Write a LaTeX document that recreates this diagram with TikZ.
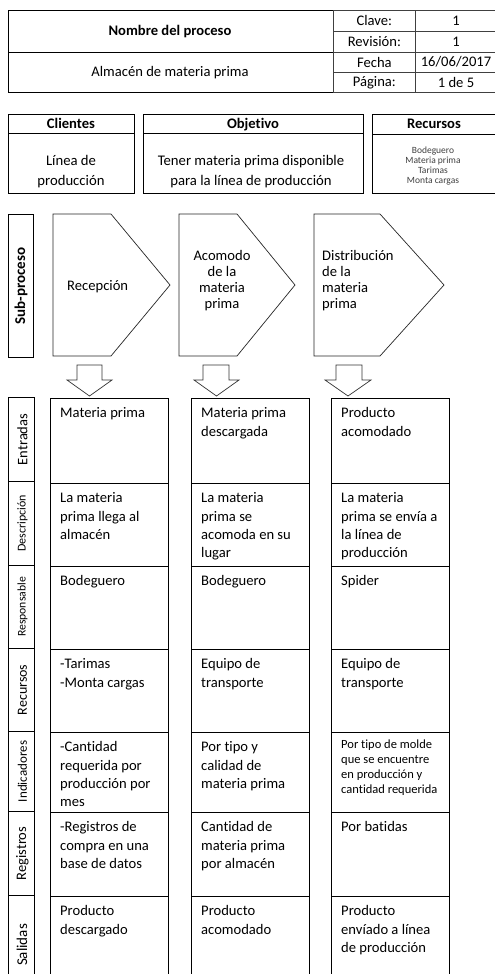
\documentclass[tikz,border=0pt]{standalone}
\usepackage{fontspec}
\setmainfont{Carlito}[Ligatures=NoCommon]
\newcommand\fmain{\fontsize{14.6}{18.3}\selectfont}
\newcommand\fbig{\fontsize{14.7}{20}\selectfont}
\newcommand\fsub{\fontsize{14.6}{16}\selectfont}
\newcommand\fsmall{\fontsize{12.5}{15}\selectfont}
\newcommand\ftiny{\fontsize{9.5}{10}\selectfont}
\tikzset{
  box/.style={draw=black, line width=0.9pt, inner sep=0pt, anchor=north west},
  tbox/.style={draw=black!75, line width=0.7pt, inner sep=0pt, anchor=north west},
  celltext/.style={anchor=north west, inner sep=0pt, align=left, font=\fmain},
  lbltext/.style={rotate=90, inner sep=0pt},
  headtext/.style={anchor=base, inner sep=0pt, font=\fmain\bfseries},
  blockarrow/.style={draw=black!80, line width=0.7pt, fill=white, line join=miter},
  pentagon/.style={draw=black!85, line width=0.7pt, line join=miter}
}
\newcommand\mkbox[6][box]{\node[#1, minimum width=#5pt, minimum height=#6pt] (#2) at (#3,#4) {};}
\newcommand\mkcell[6]{%
  \node[box, minimum width=#4pt, minimum height=#5pt] (#1) at (#2,#3) {};
  \node[celltext] (#1-t) at ([xshift=10pt,yshift=-6.7pt]#1.north west) {\strut #6};}
\newcommand\mklabel[7]{%
  \node[box, minimum width=#4pt, minimum height=#5pt] (#1) at (#2,#3) {};
  \node[lbltext, font=#6] (#1-t) at ([xshift=1pt]#1.center) {#7};}
\begin{document}
\begin{tikzpicture}[x=1pt,y=-1pt]
\useasboundingbox (0,0) rectangle (495,974);
\clip (0,0) rectangle (495,974);
\fill[white] (0,0) rectangle (495,974);
% ---------- header ----------
\mkbox{hA}{8}{10}{325}{42}
\mkbox{hB}{8}{52}{325}{40}
\node[headtext] (nombre) at (170,36) {Nombre del proceso};
\node[anchor=base, inner sep=0pt, font=\fmain] (almacen) at (170,77) {Almacén de materia prima};
\mkbox[tbox]{k1}{333}{10}{82}{21}
\mkbox[tbox]{v1}{415}{10}{85}{21}
\mkbox[tbox]{k2}{333}{31}{82}{21}
\mkbox[tbox]{v2}{415}{31}{85}{21}
\mkbox[tbox]{k3}{333}{52}{82}{20}
\mkbox[tbox]{v3}{415}{52}{85}{20}
\mkbox[tbox]{k4}{333}{72}{82}{20}
\mkbox[tbox]{v4}{415}{72}{85}{20}
\node[font=\fmain] (k1t) at (k1.center) {Clave:};
\node[font=\fmain] (k2t) at (k2.center) {Revisión:};
\node[font=\fmain] (k3t) at (k3.center) {Fecha};
\node[font=\fmain] (k4t) at (k4.center) {Página:};
\node[font=\fmain] (v1t) at (456,20.5) {1};
\node[font=\fmain] (v2t) at (456,41.5) {1};
\node[font=\fmain] (v3t) at (456,62) {16/06/2017};
\node[font=\fmain] (v4t) at (456,82) {1 de 5};
% ---------- clientes / objetivo / recursos ----------
\mkbox{cliH}{8}{114}{126}{19}
\mkbox{cliB}{8}{133}{126}{60}
\node[headtext] (clit) at (71,128) {Clientes};
\node[anchor=north, inner sep=0pt, align=center, font=\fbig] (clib) at (71,151) {\strut Línea de\\producción};
\mkbox{objH}{143}{114}{220}{19}
\mkbox{objB}{143}{133}{220}{60}
\node[headtext] (objt) at (253,128) {Objetivo};
\node[anchor=north, inner sep=0pt, align=center, font=\fbig] (objb) at (251,151) {\strut Tener materia prima disponible\\para la línea de producción};
\mkbox{recH}{372}{114}{126}{20}
\mkbox{recB}{372}{134}{126}{59}
\node[headtext] (rect) at (434,128) {Recursos};
\node[align=center, inner sep=0pt, font=\ftiny, text=black!75] (recb) at (433,166) {Bodeguero\\Materia prima\\Tarimas\\Monta cargas};
% ---------- sub-proceso ----------
\mkbox{sub}{8}{214}{25}{143}
\node[lbltext, font=\fontsize{15}{16}\selectfont\bfseries] (subt) at (sub.center) {Sub-proceso};
\draw[pentagon] (53,214) -- (111,214) -- (170,285) -- (111,356) -- (53,356) -- cycle;
\draw[pentagon] (179,214) -- (237,214) -- (295,285) -- (237,356) -- (179,356) -- cycle;
\draw[pentagon] (314,214) -- (380,214) -- (444,285) -- (380,356) -- (314,356) -- cycle;
\node[anchor=base west, inner sep=0pt, font=\fsub] (p1t) at (67,290) {Recepción};
\node[anchor=north, inner sep=0pt, align=center, font=\fsub] (p2t) at (222,249.5) {\strut Acomodo\\de la\\materia\\prima};
\node[anchor=north west, inner sep=0pt, align=left, font=\fsub] (p3t) at (322,249) {\strut Distribución\\de la\\materia\\prima};
% ---------- block arrows ----------
\draw[blockarrow] (77,365) -- (102,365) -- (102,380) -- (112,380) -- (89.5,396) -- (67,380) -- (77,380) -- cycle;
\draw[blockarrow] (203,365) -- (229,365) -- (229,380) -- (239,380) -- (216.5,396) -- (194,380) -- (203,380) -- cycle;
\draw[blockarrow] (336,365) -- (362,365) -- (362,380) -- (371,380) -- (348,396) -- (325,380) -- (336,380) -- cycle;
% ---------- row labels ----------
\mklabel{L1}{8}{397}{26}{84}{\fontsize{14.5}{16}\selectfont}{Entradas}
\mklabel{L2}{8}{481}{26}{84}{\fontsize{12}{14}\selectfont}{Descripción}
\mklabel{L3}{8}{565}{26}{83}{\fontsize{11.7}{14}\selectfont}{Responsable}
\mklabel{L4}{8}{648}{26}{83}{\fontsize{14}{16}\selectfont}{Recursos}
\mklabel{L5}{8}{731}{26}{80}{\fontsize{13}{15}\selectfont}{Indicadores}
\mklabel{L6}{8}{811}{26}{84}{\fontsize{14.5}{16}\selectfont}{Registros}
\node[box, minimum width=26pt, minimum height=90pt] (L7) at (8,895) {};
\node[lbltext, font=\fontsize{15}{16}\selectfont] (L7-t) at (22,945) {Salidas};
% ---------- column 1 ----------
\mkcell{a1}{50}{398}{118}{85}{Materia prima}
\mkcell{a2}{50}{483}{118}{83}{La materia\\prima llega al\\almacén}
\mkcell{a3}{50}{566}{118}{83}{Bodeguero}
\mkcell{a4}{50}{649}{118}{83}{-Tarimas\\-Monta cargas}
\mkcell{a5}{50}{732}{118}{80}{-Cantidad\\requerida por\\producción por\\mes}
\mkcell{a6}{50}{812}{118}{84}{-Registros de\\compra en una\\base de datos}
\mkcell{a7}{50}{896}{118}{90}{Producto\\descargado}
% ---------- column 2 ----------
\mkcell{b1}{191}{398}{118}{85}{Materia prima\\descargada}
\mkcell{b2}{191}{483}{118}{83}{La materia\\prima se\\acomoda en su\\lugar}
\mkcell{b3}{191}{566}{118}{83}{Bodeguero}
\mkcell{b4}{191}{649}{118}{83}{Equipo de\\transporte}
\mkcell{b5}{191}{732}{118}{80}{Por tipo y\\calidad de\\materia prima}
\mkcell{b6}{191}{812}{118}{84}{Cantidad de\\materia prima\\por almacén}
\mkcell{b7}{191}{896}{118}{90}{Producto\\acomodado}
% ---------- column 3 ----------
\mkcell{c1}{331}{398}{118}{85}{Producto\\acomodado}
\mkcell{c2}{331}{483}{118}{83}{La materia\\prima se envía a\\la línea de\\producción}
\mkcell{c3}{331}{566}{118}{83}{Spider}
\mkcell{c4}{331}{649}{118}{83}{Equipo de\\transporte}
\node[box, minimum width=118pt, minimum height=80pt] (c5) at (331,732) {};
\node[celltext, font=\fsmall] (c5-t) at ([xshift=10pt,yshift=-5.5pt]c5.north west) {\strut Por tipo de molde\\que se encuentre\\en producción y\\cantidad requerida};
\mkcell{c6}{331}{812}{118}{84}{Por batidas}
\mkcell{c7}{331}{896}{118}{90}{Producto\\envíado a línea\\de producción}
\end{tikzpicture}
\end{document}
